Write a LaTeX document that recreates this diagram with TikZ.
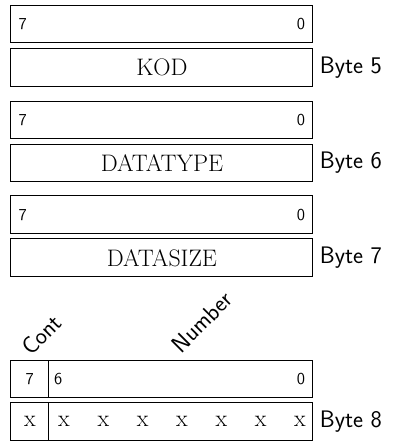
\documentclass[tikz,border=0pt]{standalone}
\usetikzlibrary{calc}
\tikzset{
  box/.style={draw=black, line width=0.7pt, minimum width=8cm, minimum height=1cm,
    inner sep=0pt, outer sep=0pt, font=\fontsize{18}{21}\selectfont},
  small/.style={font=\sffamily\fontsize{12.6}{15}\selectfont, inner sep=0pt},
  bytelbl/.style={anchor=west, inner sep=5pt, font=\sffamily\fontsize{18}{21}\selectfont},
  rot/.style={rotate=45, inner sep=0pt, font=\sffamily\fontsize{18}{21}\selectfont},
  xbit/.style={font=\fontsize{18}{21}\selectfont, inner sep=0pt},
}
\begin{document}
\begin{tikzpicture}
\useasboundingbox (0,0) rectangle (10.384,-11.682);
% Byte 5
\node[box] (h1) at (4.29,-0.632) {};
\node[small] (h1a) at ([xshift=0.31cm]h1.west) {7};
\node[small] (h1b) at ([xshift=-0.32cm]h1.east) {0};
\node[box] (b5) at (4.29,-1.79) {KOD};
\node[bytelbl] (l5) at (b5.east) {Byte 5};
% Byte 6
\node[box] (h2) at (4.29,-3.175) {};
\node[small] (h2a) at ([xshift=0.31cm]h2.west) {7};
\node[small] (h2b) at ([xshift=-0.32cm]h2.east) {0};
\node[box] (b6) at (4.29,-4.315) {DATATYPE};
\node[bytelbl] (l6) at (b6.east) {Byte 6};
% Byte 7
\node[box] (h3) at (4.29,-5.69) {};
\node[small] (h3a) at ([xshift=0.31cm]h3.west) {7};
\node[small] (h3b) at ([xshift=-0.32cm]h3.east) {0};
\node[box] (b7) at (4.29,-6.83) {DATASIZE};
\node[bytelbl] (l7) at (b7.east) {Byte 7};
% Byte 8
\node[rot] (cont) at (1.105,-8.874) {Cont};
\node[rot] (num) at (5.351,-8.522) {Number};
\node[box, minimum width=1cm] (h4c) at (0.79,-10.036) {};
\node[box, minimum width=7cm] (h4n) at (4.79,-10.036) {};
\node[small] (h4a) at (h4c.center) {7};
\node[small] (h4b) at ([xshift=0.255cm]h4n.west) {6};
\node[small] (h4d) at ([xshift=-0.32cm]h4n.east) {0};
\node[box, minimum width=1cm] (b8c) at (0.79,-11.17) {};
\node[box, minimum width=7cm] (b8n) at (4.79,-11.17) {};
\node[xbit] (x7) at (b8c.center) {x};
\foreach \i in {0,...,6} {
  \node[xbit] (x\i) at ({1.695+\i*1.042},-11.17) {x};
}
\node[bytelbl] (l8) at (b8n.east) {Byte 8};
\end{tikzpicture}
\end{document}
